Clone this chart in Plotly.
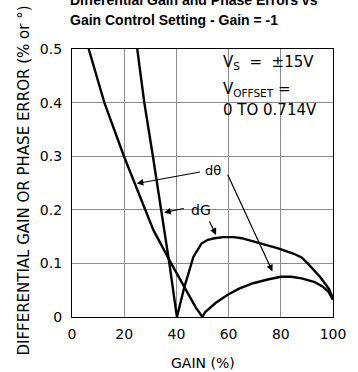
import plotly.graph_objects as go

# dθ (phase error) curve
dtheta_gain = [6.4, 12.4, 19.9, 24.0, 31.2, 38.0, 44.0, 47.5, 50.0, 51.0, 55.0, 59.5, 64.0, 69.4, 75.0, 80.0, 84.0, 88.0, 93.0, 96.0, 98.3, 100.0]
dtheta_val = [0.5, 0.4, 0.3, 0.25, 0.162, 0.1, 0.047, 0.017, 0.0, 0.009, 0.026, 0.041, 0.053, 0.063, 0.070, 0.075, 0.075, 0.072, 0.065, 0.057, 0.047, 0.032]

# dG (gain error) curve
dg_gain = [25.0, 27.7, 31.0, 34.2, 37.3, 40.2, 43.0, 46.5, 49.6, 52.0, 54.6, 58.0, 62.0, 65.0, 68.0, 72.0, 79.0, 85.0, 88.0, 90.3, 95.0, 98.5, 100.0]
dg_val = [0.5, 0.4, 0.3, 0.2, 0.1, 0.0, 0.055, 0.112, 0.137, 0.144, 0.147, 0.149, 0.149, 0.147, 0.143, 0.137, 0.128, 0.118, 0.111, 0.1, 0.075, 0.052, 0.035]

x_ticks = [0, 20, 40, 60, 80, 100]
x_tick_labels = ["0", "20", "40", "60", "80", "100"]
y_ticks = [0, 0.1, 0.2, 0.3, 0.4, 0.5]
y_tick_labels = ["0", "0.1", "0.2", "0.3", "0.4", "0.5"]

title_lines = ["Differential Gain and Phase Errors vs", "Gain Control Setting - Gain = -1"]
x_title = "GAIN (%)"
y_title = "DIFFERENTIAL GAIN OR PHASE ERROR (% or °)"
NB = "\u00a0"
cond_lines = ["V<sub>S</sub>" + NB + " =" + NB + NB + "±15V", "V<sub>OFFSET</sub>" + NB + "=", "0 TO 0.714V"]
cond_y = [0.474, 0.425, 0.386]
cond_x = 57.0

FONT = "DejaVu Sans"
fig = go.Figure()
fig.add_trace(go.Scatter(x=dtheta_gain, y=dtheta_val, mode="lines",
                         line=dict(color="black", width=2.4), showlegend=False))
fig.add_trace(go.Scatter(x=dg_gain, y=dg_val, mode="lines",
                         line=dict(color="black", width=2.4), showlegend=False))

annotations = []
# arrows: (head_x, head_y, tail_x, tail_y)
arrows = [
    (24.8, 0.249, 49.6, 0.271),   # dθ -> left curve
    (76.8, 0.085, 59.4, 0.268),   # dθ -> hump
    (35.3, 0.195, 43.4, 0.203),   # dG -> steep curve
    (55.2, 0.153, 52.4, 0.181),   # dG -> hump
]
for hx, hy, tx, ty in arrows:
    annotations.append(dict(x=hx, y=hy, ax=tx, ay=ty, xref="x", yref="y",
                            axref="x", ayref="y", text="", showarrow=True,
                            arrowhead=2, arrowsize=1.1, arrowwidth=1.2,
                            arrowcolor="black"))
annotations.append(dict(x=54.0, y=0.274, xref="x", yref="y", text="dθ",
                        showarrow=False, font=dict(family=FONT, size=13, color="black")))
annotations.append(dict(x=49.5, y=0.2, xref="x", yref="y", text="dG",
                        showarrow=False, font=dict(family=FONT, size=14, color="black")))
for t, yy in zip(cond_lines, cond_y):
    annotations.append(dict(x=cond_x, y=yy, xref="x", yref="y", text=t,
                            xanchor="left", yanchor="middle", showarrow=False,
                            font=dict(family=FONT, size=15, color="black")))
# title lines
for t, yy in zip(title_lines, [1.181, 1.108]):
    annotations.append(dict(x=-0.015, y=yy, xref="paper", yref="paper", text="<b>" + t + "</b>",
                            xanchor="left", yanchor="middle", showarrow=False,
                            font=dict(family="Liberation Sans, Arial", size=14, color="black")))
annotations.append(dict(x=0.5, y=-0.172, xref="paper", yref="paper", text=x_title,
                        xanchor="center", yanchor="middle", showarrow=False,
                        font=dict(family=FONT, size=14, color="black")))
annotations.append(dict(x=-0.185, y=0.508, xref="paper", yref="paper", text=y_title,
                        textangle=-90, xanchor="center", yanchor="middle", showarrow=False,
                        font=dict(family=FONT, size=15, color="black")))

fig.update_layout(
    width=358, height=372,
    margin=dict(l=72, r=15, t=49, b=55),
    paper_bgcolor="white", plot_bgcolor="white",
    annotations=annotations,
    xaxis=dict(range=[0, 100], tickvals=x_ticks, ticktext=x_tick_labels,
               showgrid=True, gridcolor="#8a8a8a", gridwidth=1, zeroline=False,
               showline=True, linecolor="black", linewidth=1.2, mirror=True,
               ticks="outside", ticklen=4, tickcolor="rgba(0,0,0,0)",
               tickfont=dict(family=FONT, size=14, color="black")),
    yaxis=dict(range=[0, 0.5], tickvals=y_ticks, ticktext=y_tick_labels,
               showgrid=True, gridcolor="#8a8a8a", gridwidth=1, zeroline=False,
               showline=True, linecolor="black", linewidth=1.2, mirror=True,
               ticks="outside", ticklen=6, tickcolor="rgba(0,0,0,0)",
               tickfont=dict(family=FONT, size=14, color="black")),
)

fig.write_html("out.html")
